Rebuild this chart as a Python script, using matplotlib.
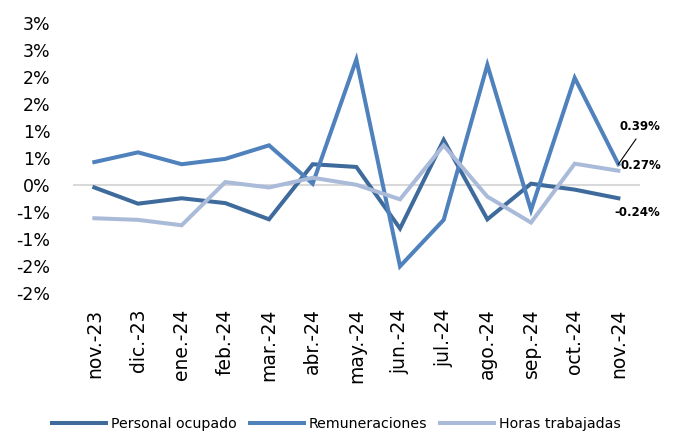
import matplotlib
matplotlib.use("Agg")
import matplotlib.pyplot as plt

categories = ["nov.-23", "dic.-23", "ene.-24", "feb.-24", "mar.-24", "abr.-24",
              "may.-24", "jun.-24", "jul.-24", "ago.-24", "sep.-24", "oct.-24", "nov.-24"]
personal_ocupado = [-0.04, -0.34, -0.24, -0.33, -0.63, 0.39, 0.34, -0.80, 0.84, -0.63, 0.03, -0.08, -0.24]
remuneraciones = [0.43, 0.61, 0.39, 0.49, 0.74, 0.03, 2.33, -1.50, -0.64, 2.23, -0.46, 1.99, 0.39]
horas_trabajadas = [-0.61, -0.64, -0.74, 0.06, -0.04, 0.14, 0.01, -0.26, 0.74, -0.21, -0.69, 0.40, 0.27]
series_names = ["Personal ocupado", "Remuneraciones", "Horas trabajadas"]
y_ticks = [-2.0, -1.5, -1.0, -0.5, 0.0, 0.5, 1.0, 1.5, 2.0, 2.5, 3.0]
y_tick_labels = ["-2%", "-2%", "-1%", "-1%", "0%", "1%", "1%", "2%", "2%", "3%", "3%"]
end_labels = ["-0.24%", "0.39%", "0.27%"]

colors = ["#3E6A9C", "#4F81BD", "#AABBDA"]

plt.rcParams['font.family'] = ['DejaVu Sans']

fig = plt.figure(figsize=(6.73, 4.32), dpi=100)
ax = fig.add_axes([72.5/673, 1-293.3/432, (640.2-72.5)/673, (293.3-23.3)/432])

x = list(range(len(categories)))
ax.axhline(0, color="#D9D9D9", lw=1.5, zorder=1)
for vals, name, c in zip([personal_ocupado, remuneraciones, horas_trabajadas], series_names, colors):
    ax.plot(x, vals, color=c, lw=2.9, label=name, zorder=2, solid_joinstyle='miter')

ax.set_xlim(-0.5, len(categories)-0.5)
ax.set_ylim(-2.0, 3.0)
ax.set_yticks(y_ticks)
ax.set_yticklabels(y_tick_labels, fontsize=12.5)
ax.set_xticks(x)
ax.set_xticklabels(categories, rotation=90, fontsize=13.5)
ax.tick_params(axis='y', length=0, pad=16)
ax.tick_params(axis='x', length=0, pad=11)
for s in ax.spines.values():
    s.set_visible(False)

last = len(categories) - 1
ax.annotate(end_labels[1], xy=(last, remuneraciones[-1]), xytext=(22, 38),
            textcoords='offset pixels', ha='center', va='center', fontsize=8.5,
            fontweight='bold',
            arrowprops=dict(arrowstyle='-', color='black', lw=0.8, shrinkA=3, shrinkB=0,
                            relpos=(0.5, 0)))
ax.annotate(end_labels[2], xy=(last, horas_trabajadas[-1]), xytext=(2, 5),
            textcoords='offset pixels', ha='left', va='center', fontsize=8.5,
            fontweight='bold')
ax.annotate(end_labels[0], xy=(last, personal_ocupado[-1]), xytext=(19, -14),
            textcoords='offset pixels', ha='center', va='center', fontsize=8.5,
            fontweight='bold')

fig.legend(loc='center', bbox_to_anchor=(0.5, 1-424/432), ncol=3, frameon=False,
           fontsize=10.2, handlelength=3.8, handletextpad=0.35, columnspacing=0.9,
           borderaxespad=0, borderpad=0)

fig.savefig("out.png", dpi=100)
